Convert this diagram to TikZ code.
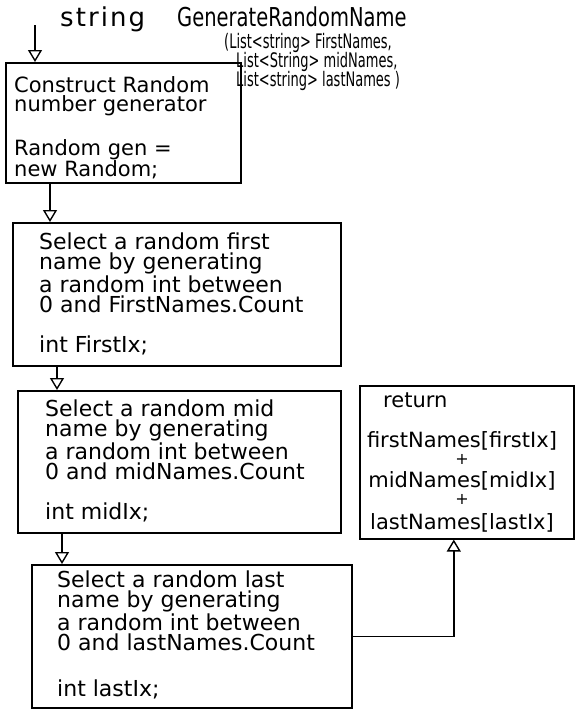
\documentclass[tikz,border=0pt]{standalone}
\usepackage{fontspec}
\setmainfont{DejaVu Sans}
\usetikzlibrary{arrows.meta,calc}
\begin{document}
\begin{tikzpicture}[x=1pt,y=-1pt,
  box/.style={draw, line width=1.6pt, inner sep=0pt, anchor=north west},
  txt/.style={anchor=north west, inner sep=0pt, align=left, font=\fontsize{22}{20}\selectfont},
  par/.style={anchor=base west, inner sep=0pt, font=\fontsize{20}{20}\selectfont},
  arr/.style={line width=1.4pt, -{Triangle[open,width=14pt,length=12pt,line width=1.4pt]}}]
\useasboundingbox (0,0) rectangle (578,716);

% title
\node[anchor=base west, inner sep=0pt, font=\fontsize{26}{26}\selectfont\addfontfeature{LetterSpace=8}] (rettype) at (60,26) {string};
\node[anchor=base west, inner sep=0pt, font=\fontsize{26}{26}\selectfont] (fname) at (177,26) {\scalebox{0.75}[1]{GenerateRandomName}};
\node[par] (p1) at (224,48) {\scalebox{0.65}[1]{(List<string> FirstNames,}};
\node[par] (p2) at (236,67) {\scalebox{0.65}[1]{List<String> midNames,}};
\node[par] (p3) at (236,86) {\scalebox{0.65}[1]{List<string> lastNames )}};

% boxes
\node[box, minimum width=235pt, minimum height=120pt] (b1) at (5,62) {};
\node[box, minimum width=328pt, minimum height=143pt] (b2) at (12,222) {};
\node[box, minimum width=323pt, minimum height=142pt] (b3) at (17,390) {};
\node[box, minimum width=320pt, minimum height=143pt] (b4) at (31,564) {};
\node[box, minimum width=214pt, minimum height=153pt] (ret) at (359,385) {};

% box texts
\node[txt, font=\fontsize{21}{19}\selectfont] (t1) at (14,76)
  {Construct Random\\number generator\\[23pt]Random gen =\\new Random;};
\node[txt] (t2) at (39,233)
  {Select a random first\\name by generating\\a random int between\\0 and FirstNames.Count\\[20pt]int FirstIx;};
\node[txt] (t3) at (45,400)
  {Select a random mid\\name by generating\\a random int between\\0 and midNames.Count\\[20pt]int midIx;};
\node[txt] (t4) at (57,571)
  {Select a random last\\name by generating\\a random int between\\0 and lastNames.Count\\[26pt]int lastIx;};
\node[anchor=base west, inner sep=0pt, font=\fontsize{21}{21}\selectfont] (tr) at (383,407) {return};
\node[anchor=north, inner sep=0pt, align=center, font=\fontsize{21}{20}\selectfont] (tr2) at (462,431)
  {firstNames[firstIx]\\[-3pt]{\fontsize{16}{16}\selectfont +}\\[3pt]midNames[midIx]\\[-3pt]{\fontsize{16}{16}\selectfont +}\\[5pt]lastNames[lastIx]};

% connectors
\coordinate (start) at (35,25);
\draw[arr] (start) -- (start |- b1.north);
\draw[arr] ([xshift=45pt]b1.south west) -- ([xshift=45pt]b1.south west |- b2.north);
\draw[arr] ([xshift=45pt]b2.south west) -- ([xshift=45pt]b2.south west |- b3.north);
\draw[arr] ([xshift=45pt]b3.south west) -- ([xshift=45pt]b3.south west |- b4.north);
\draw[arr] (b4.east) -| ([xshift=-13pt]ret.south);
\end{tikzpicture}
\end{document}
